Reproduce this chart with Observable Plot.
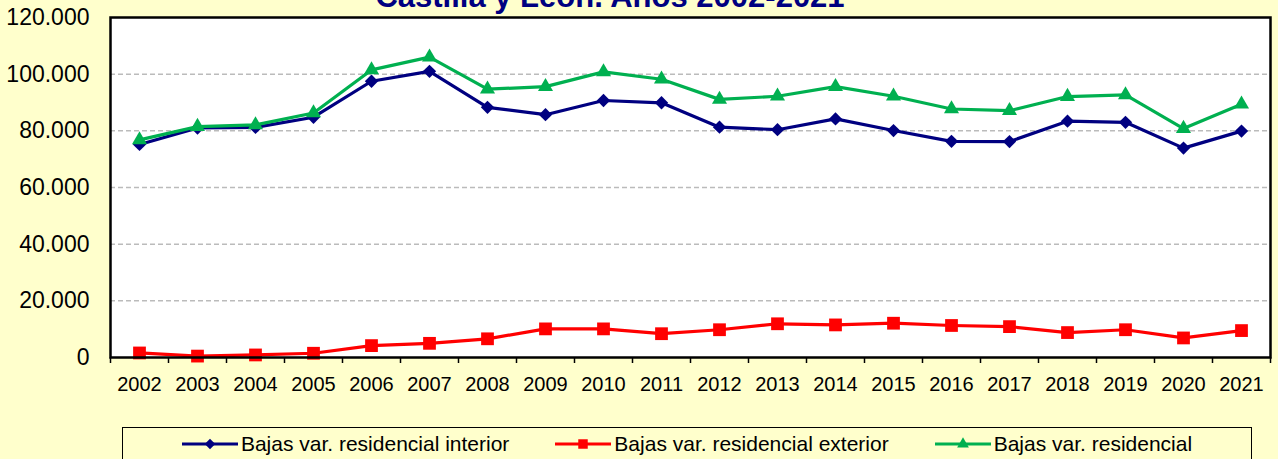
<!DOCTYPE html>
<html>
<head>
<meta charset="utf-8">
<script src="https://cdn.jsdelivr.net/npm/d3@7"></script>
<script src="https://cdn.jsdelivr.net/npm/@observablehq/plot@0.6"></script>
<style>
  html, body { margin: 0; padding: 0; background: #FFFFCC; }
  #wrap { position: relative; width: 1278px; height: 459px; overflow: hidden; background: #FFFFCC; font-family: "Liberation Sans", Arial, sans-serif; }
  #title { position: absolute; left: 0; width: 1220px; top: -19px; text-align: center; font-weight: bold; font-size: 31px; line-height: 31px; color: #000080; white-space: nowrap; }
  #chart { position: absolute; left: 0; top: 0; }
  #legend { position: absolute; left: 122px; top: 427px; width: 1130px; height: 40px; border: 1px solid #000; background: #FFFFCC; display: flex; justify-content: center; align-items: flex-start; gap: 46px; box-sizing: border-box; padding-top: 4px; }
  .item { display: flex; align-items: center; font-size: 21px; color: #000; white-space: nowrap; }
  .item svg { margin-right: 3px; }
</style>
</head>
<body>
<div id="wrap">
  <div id="chart"></div>
  <div id="title">Castilla y León. Años 2002-2021</div>
  <div id="legend"></div>
</div>
<script>
const years = [2002, 2003, 2004, 2005, 2006, 2007, 2008, 2009, 2010, 2011, 2012, 2013, 2014, 2015, 2016, 2017, 2018, 2019, 2020, 2021];
const interior = [75200, 81000, 81200, 84800, 97500, 101000, 88300, 85700, 90700, 89900, 81300, 80400, 84200, 80100, 76300, 76200, 83400, 83000, 73900, 79900];
const exterior = [1600, 500, 900, 1500, 4200, 5000, 6600, 10100, 10100, 8400, 9800, 11900, 11500, 12100, 11300, 10900, 8800, 9800, 6900, 9500];
const total = [76800, 81500, 82100, 86300, 101500, 106000, 94700, 95600, 100800, 98200, 91100, 92200, 95600, 92200, 87700, 87100, 92100, 92700, 80800, 89400];
const seriesNames = ["Bajas var. residencial interior", "Bajas var. residencial exterior", "Bajas var. residencial"];
const seriesColors = ["#000080", "#FF0000", "#00B050"];
const seriesSymbols = ["diamond2", "square", "triangle"];
const seriesR = [6, 7.2, 5.6];
const yTicks = [0, 20000, 40000, 60000, 80000, 100000, 120000];
const gridTicks = [20000, 40000, 60000, 80000, 100000];

const seriesValues = [interior, exterior, total];
const rows = seriesValues.map((vals, s) => years.map((yr, i) => ({year: yr, value: vals[i], s})));
const bounds = [...years.map(y => y - 0.5), years[years.length - 1] + 0.5];
const fmt = d => d === 0 ? "0" : d3.format(",")(d).replace(/,/g, ".");

const marks = [
  Plot.frame({fill: "white", stroke: null}),
  Plot.gridY(gridTicks, {stroke: "#BBBBBB", strokeOpacity: 1, strokeWidth: 1.5, strokeDasharray: "5,3"}),
  Plot.axisY({ticks: yTicks, tickSize: 0, tickPadding: 21, tickFormat: fmt, fontSize: 23, fill: "#000", label: null}),
  Plot.axisX({ticks: years, tickSize: 0, tickPadding: 19, tickFormat: d => String(d), fontSize: 20, fill: "#000", label: null}),
  Plot.axisX({ticks: bounds, tickSize: 6, tickFormat: () => "", stroke: "#000", strokeWidth: 1.5, label: null})
];
rows.forEach((data, s) => {
  marks.push(Plot.line(data, {x: "year", y: "value", stroke: seriesColors[s], strokeWidth: 3.2}));
  marks.push(Plot.dot(data, {x: "year", y: "value", symbol: () => seriesSymbols[s], r: seriesR[s], fill: seriesColors[s], stroke: "none"}));
});
marks.push(Plot.frame({stroke: "#000", strokeWidth: 2.5}));

const chart = Plot.plot({
  width: 1278,
  height: 400,
  marginLeft: 110,
  marginRight: 8,
  marginTop: 17,
  marginBottom: 43,
  style: {background: "transparent", fontFamily: "'Liberation Sans', Arial, sans-serif", overflow: "visible"},
  x: {domain: [2001.5, 2021.5], label: null},
  y: {domain: [0, 120000], label: null},
  symbol: {type: "identity"},
  marks
});
document.getElementById("chart").appendChild(chart);

// legend
const legend = document.getElementById("legend");
seriesNames.forEach((name, s) => {
  const item = document.createElement("div");
  item.className = "item";
  const sym = d3.symbol().type(s === 0 ? d3.symbolDiamond2 : s === 1 ? d3.symbolSquare : d3.symbolTriangle).size(s === 0 ? 70 : s === 1 ? 90 : 60)();
  item.innerHTML = `<svg width="56" height="20"><line x1="0" x2="56" y1="10" y2="10" stroke="${seriesColors[s]}" stroke-width="3"/><path d="${sym}" transform="translate(28,10)" fill="${seriesColors[s]}"/></svg><span>${name}</span>`;
  legend.appendChild(item);
});
</script>
</body>
</html>
